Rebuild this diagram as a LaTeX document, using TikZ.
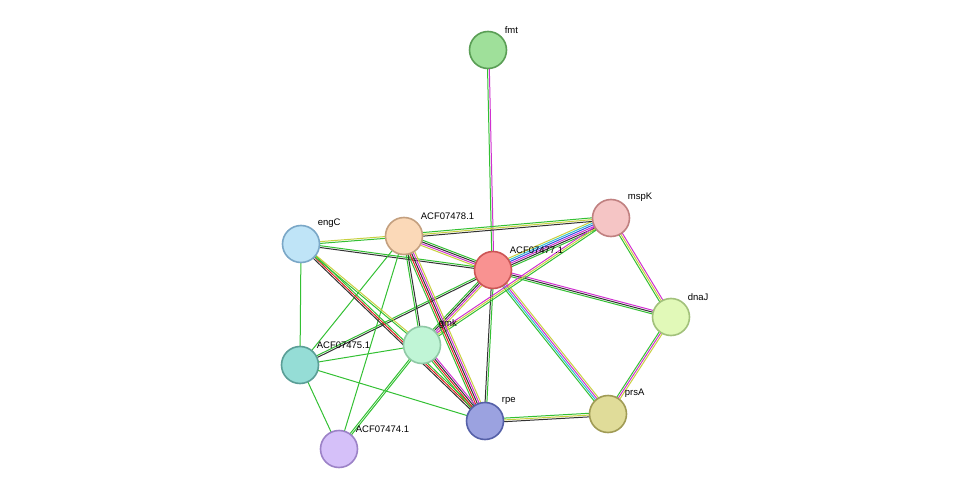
\documentclass[tikz,border=0pt]{standalone}
\usepackage{fontspec}
\setmainfont{Liberation Sans}
\usetikzlibrary{calc,backgrounds}
\definecolor{cgreen}{HTML}{33C033}
\definecolor{cred}{HTML}{E02020}
\definecolor{cblue}{HTML}{3050E0}
\definecolor{cblack}{HTML}{333333}
\definecolor{cmag}{HTML}{D030D0}
\definecolor{ccyan}{HTML}{30C0D0}
\definecolor{cyel}{HTML}{C8D040}
\definecolor{fmtF}{HTML}{9FE09A}\definecolor{fmtD}{HTML}{5A9E55}
\definecolor{mspF}{HTML}{F5C5C5}\definecolor{mspD}{HTML}{C08080}
\definecolor{engF}{HTML}{BFE4F7}\definecolor{engD}{HTML}{7AA7C7}
\definecolor{a78F}{HTML}{FBD9B8}\definecolor{a78D}{HTML}{C4A07F}
\definecolor{a77F}{HTML}{F99291}\definecolor{a77D}{HTML}{CC5555}
\definecolor{dnaF}{HTML}{E1F9B8}\definecolor{dnaD}{HTML}{A2C17B}
\definecolor{gmkF}{HTML}{C0F5D6}\definecolor{gmkD}{HTML}{8FC9A6}
\definecolor{a75F}{HTML}{95DDD6}\definecolor{a75D}{HTML}{5A9E96}
\definecolor{rpeF}{HTML}{9BA2E0}\definecolor{rpeD}{HTML}{5560A8}
\definecolor{prsF}{HTML}{E0DC99}\definecolor{prsD}{HTML}{A09B55}
\definecolor{a74F}{HTML}{D5C0F9}\definecolor{a74D}{HTML}{9C82C7}
\tikzset{
  prot/.style 2 args={draw=#2,fill=#1,shape=circle,line width=1.6pt,minimum size=37pt,inner sep=0pt},
  lab/.style={label={[anchor=south west,inner sep=1pt,xshift=2pt,yshift=2pt,font=\fontsize{9.5}{11}\selectfont]north east:#1}}
}
\newcommand\multiedge[3]{%
  \foreach \c [count=\i] in {#3}{\xdef\nlines{\i}}%
  \foreach \c [count=\i] in {#3}{%
    \pgfmathsetmacro\off{(\i-(\nlines+1)/2)*1.8}%
    \draw[\c,line width=1pt] ($(#1)!\off pt!90:(#2)$) -- ($(#2)!\off pt!-90:(#1)$);}}
\begin{document}
\begin{tikzpicture}[x=1pt,y=-1pt]
  \useasboundingbox (0,0) rectangle (975,495);

      \path (488,50) node[prot={fmtF}{fmtD},lab=fmt] (fmt) {};
      \path (611,218) node[prot={mspF}{mspD},lab=mspK] (mspK) {};
      \path (301,244) node[prot={engF}{engD},lab=engC] (engC) {};
      \path (404,236) node[prot={a78F}{a78D},lab=ACF07478.1] (a78) {};
      \path (493,270) node[prot={a77F}{a77D},lab=ACF07477.1] (a77) {};
      \path (671,317) node[prot={dnaF}{dnaD},lab=dnaJ] (dnaJ) {};
      \path (422,345) node[prot={gmkF}{gmkD},lab=gmk] (gmk) {};
      \path (300,365) node[prot={a75F}{a75D},lab=ACF07475.1] (a75) {};
      \path (485,421) node[prot={rpeF}{rpeD},lab=rpe] (rpe) {};
      \path (608,414) node[prot={prsF}{prsD},lab=prsA] (prsA) {};
      \path (339,449) node[prot={a74F}{a74D},lab=ACF07474.1] (a74) {};

  \begin{scope}[on background layer]
      \multiedge{fmt}{a77}{cgreen,cmag}
      \multiedge{a77}{mspK}{cgreen,cblack,cmag,cblue,ccyan,cyel}
      \multiedge{a77}{dnaJ}{cgreen,cblack,cmag}
      \multiedge{a77}{prsA}{cgreen,ccyan,cmag,cyel}
      \multiedge{a77}{rpe}{cblack,cgreen}
      \multiedge{a77}{gmk}{cgreen,cblack,cmag,cyel}
      \multiedge{a77}{a78}{cgreen,cblack,cmag,cyel}
      \multiedge{a77}{engC}{cgreen,cblack}
      \multiedge{a77}{a75}{cgreen,cblack}
      \multiedge{mspK}{a78}{cgreen,cyel,cblack}
      \multiedge{mspK}{gmk}{cmag,cyel,cgreen}
      \multiedge{mspK}{dnaJ}{cgreen,cyel,cmag}
      \multiedge{dnaJ}{prsA}{cgreen,cmag,cyel}
      \multiedge{prsA}{rpe}{cgreen,cyel,cblack}
      \multiedge{a78}{rpe}{cgreen,cred,cblack,cmag,cyel}
      \multiedge{a78}{gmk}{cgreen,cblack}
      \multiedge{a78}{engC}{cyel,cgreen}
      \multiedge{a78}{a75}{cgreen}
      \multiedge{a78}{a74}{cgreen}
      \multiedge{engC}{rpe}{cblack,cred,cgreen}
      \multiedge{engC}{gmk}{cgreen,cyel}
      \multiedge{engC}{a75}{cgreen}
      \multiedge{gmk}{rpe}{cgreen,cred,cblack,cmag}
      \multiedge{gmk}{a75}{cgreen}
      \multiedge{gmk}{a74}{cgreen,cgreen}
      \multiedge{a75}{rpe}{cgreen}
      \multiedge{a75}{a74}{cgreen}
  \end{scope}
\end{tikzpicture}
\end{document}
